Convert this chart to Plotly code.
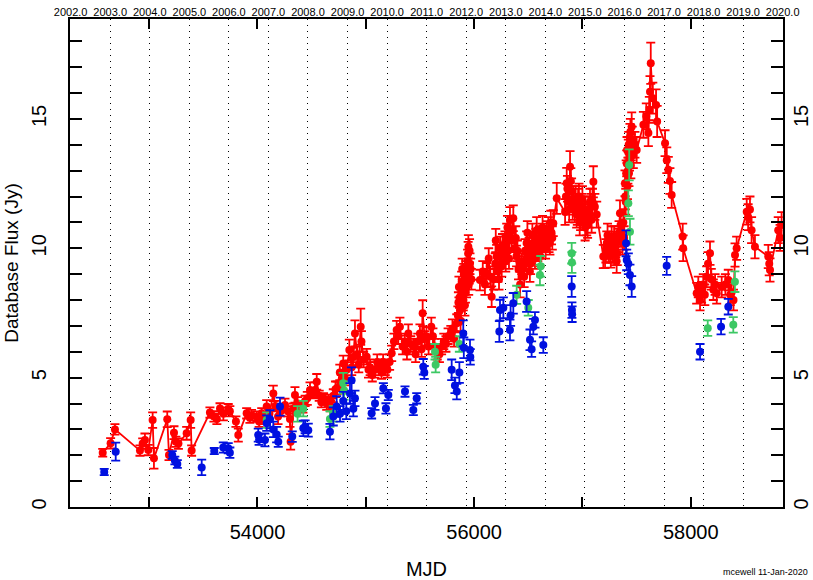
import datetime as dt
import plotly.graph_objects as go

# ---- light curve: red series (connected in time order) ----
red_mjd = [52571, 52644, 52684, 52915, 52940, 52961, 52992, 53032, 53044, 53167,
           53183, 53229, 53247, 53270, 53346, 53383, 53392, 53561, 53598, 53625,
           53654, 53685, 53730, 53745, 53801, 53823, 53900, 53930, 53945, 53993,
           54015, 54039, 54060, 54085, 54110, 54146, 54165, 54190, 54215, 54254,
           54280, 54300, 54306, 54330, 54346, 54370, 54395, 54420, 54440, 54460,
           54485, 54510, 54531, 54547, 54570, 54590, 54610, 54639, 54654, 54675,
           54700, 54720, 54735, 54760, 54775, 54792, 54805, 54823, 54848, 54870,
           54885, 54900, 54920, 54935, 54953, 54960, 54980, 55008, 55025, 55040,
           55060, 55085, 55105, 55130, 55145, 55160, 55180, 55200, 55220, 55239,
           55260, 55285, 55300, 55315, 55340, 55360, 55380, 55393, 55415, 55440,
           55460, 55480, 55500, 55515, 55525, 55545, 55560, 55580, 55605, 55620,
           55635, 55660, 55680, 55700, 55720, 55740, 55760, 55785, 55800, 55815,
           55840, 55850, 55860, 55870, 55880, 55890, 55900, 55910, 55920, 55930,
           55940, 55947, 55955, 55962, 55975, 56054, 56080, 56100, 56116, 56135,
           56150, 56162, 56180, 56195, 56208, 56220, 56240, 56255, 56270, 56285,
           56301, 56315, 56331, 56345, 56362, 56375, 56392, 56410, 56425, 56440,
           56454, 56470, 56485, 56500, 56515, 56530, 56547, 56562, 56578, 56595,
           56610, 56625, 56640, 56660, 56685, 56700, 56715, 56731, 56763, 56840,
           56855, 56870, 56886, 56900, 56917, 56930, 56947, 56960, 56975, 56993,
           57010, 57025, 57040, 57055, 57070, 57085, 57101, 57132, 57193, 57209,
           57225, 57240, 57255, 57270, 57285, 57300, 57316, 57330, 57347, 57360,
           57378, 57385, 57393, 57400, 57409, 57416, 57424, 57430, 57439, 57447,
           57455, 57470, 57485, 57501, 57563, 57590, 57609, 57618, 57624, 57631,
           57650, 57680, 57690, 57763, 57779, 57793, 57808, 57824, 57926, 57930,
           58055, 58070, 58086, 58100, 58116, 58130, 58147, 58160, 58178, 58190,
           58209, 58225, 58240, 58286, 58320, 58347, 58365, 58378, 58395, 58409,
           58424, 58517, 58530, 58547, 58562, 58593, 58716, 58725, 58732, 58808,
           58825, 58839,
           # denser sampling during the 2011-2016 campaigns
           55855, 55865, 55875, 55885, 55895, 55905, 55915, 55925, 55935, 55945,
           55950, 55958, 55968, 56200, 56230, 56262, 56292, 56308, 56322, 56352,
           56385, 56400, 56418, 56462, 56478, 56492, 56508, 56522, 56538, 56555,
           56570, 56588, 56603, 56618, 56632, 56650, 56670, 56692, 56708, 56722,
           56848, 56862, 56878, 56893, 56910, 56938, 56953, 56968, 56983, 57000,
           57018, 57032, 57048, 57062, 57078, 57093, 57115, 57217, 57232, 57248,
           57262, 57278, 57293, 57308, 57322, 57338, 57353, 57370, 57396, 57404,
           57412, 57420, 57427, 57435, 57443, 57451, 57460]
red_flux = [2.10, 2.46, 3.00, 2.18, 2.45, 2.59, 2.20, 3.36, 1.88, 3.39,
            2.01, 2.87, 2.52, 2.45, 2.85, 3.36, 2.18, 3.65, 3.50, 3.40,
            3.81, 3.60, 3.78, 3.70, 3.30, 2.78, 3.62, 3.45, 3.55, 3.49,
            3.30, 3.62, 3.40, 3.88, 3.60, 4.39, 3.90, 3.50, 3.70, 3.94,
            3.70, 3.40, 2.52, 3.80, 4.33, 4.00, 3.90, 3.85, 4.10, 4.20,
            4.52, 4.40, 4.52, 4.84, 4.30, 4.05, 4.20, 4.00, 4.14, 3.90,
            4.30, 4.55, 4.60, 5.20, 4.80, 5.55, 5.00, 5.30, 6.07, 5.40,
            5.80, 6.71, 5.90, 5.50, 6.97, 6.40, 5.70, 5.81, 5.30, 5.40,
            5.10, 5.30, 5.60, 5.40, 5.20, 5.60, 5.40, 5.30, 5.60, 5.94,
            6.40, 6.84, 6.60, 6.97, 6.20, 6.40, 6.00, 6.71, 6.30, 6.20,
            5.90, 6.40, 6.71, 6.10, 7.49, 6.50, 6.60, 6.20, 6.97, 6.60,
            6.20, 6.00, 5.90, 6.20, 6.40, 6.30, 6.60, 6.70, 6.90, 6.50,
            7.10, 7.40, 8.50, 7.60, 8.00, 9.20, 8.00, 8.70, 8.30, 8.50,
            9.50, 10.06, 9.03, 9.40, 8.80, 8.77, 9.10, 8.60, 9.03, 9.60,
            8.90, 8.13, 8.80, 9.40, 9.68, 9.10, 10.00, 9.30, 9.80, 10.20,
            10.45, 9.90, 11.09, 10.30, 11.16, 10.00, 9.70, 9.20, 8.60, 9.40,
            9.29, 9.90, 10.20, 9.60, 9.10, 9.80, 10.19, 9.60, 10.70, 10.20,
            9.70, 10.50, 10.30, 10.00, 10.70, 10.20, 10.60, 10.97, 11.93, 11.40,
            12.51, 11.80, 13.15, 12.20, 11.90, 11.50, 11.30, 11.80, 11.00, 11.60,
            11.20, 10.80, 11.00, 11.50, 11.80, 11.10, 12.57, 11.30, 9.68, 9.68,
            10.20, 9.90, 9.90, 10.40, 10.19, 9.80, 9.50, 10.30, 11.35, 10.50,
            11.00, 10.40, 12.51, 11.80, 13.28, 12.40, 13.70, 12.90, 14.31, 13.20,
            14.70, 13.60, 14.00, 13.80, 14.77, 15.10, 14.45, 15.35, 16.05, 17.15,
            15.80, 15.54, 14.90, 14.06, 13.40, 13.03, 12.60, 12.06, 10.45, 10.00,
            8.26, 8.50, 8.00, 8.30, 8.60, 8.20, 8.90, 9.40, 9.81, 8.80,
            8.40, 8.60, 8.26, 8.50, 8.60, 8.77, 8.20, 8.30, 8.00, 9.74,
            10.00, 11.41, 11.20, 11.50, 10.70, 10.06, 9.68, 9.40, 9.16, 10.70,
            10.40, 10.90,
            7.90, 8.10, 7.20, 8.70, 8.40, 9.00, 7.80, 9.10, 8.90, 9.80,
            8.60, 9.90, 9.20, 10.30, 8.80, 10.10, 9.50, 10.80, 9.60, 10.70,
            10.40, 9.90, 9.50, 8.90, 9.50, 10.60, 10.00, 9.40, 10.50, 9.90,
            10.30, 9.90, 10.40, 10.00, 10.80, 10.40, 10.60, 10.30, 11.00, 10.40,
            12.00, 12.30, 11.50, 12.60, 11.60, 11.90, 11.40, 12.00, 11.20, 11.90,
            11.50, 11.30, 10.90, 11.30, 11.60, 11.80, 11.60, 9.90, 10.50, 10.10,
            9.70, 9.90, 10.40, 10.10, 9.80, 10.60, 10.90, 10.20, 12.00, 12.90,
            13.80, 13.00, 14.00, 13.50, 14.50, 13.90, 14.20]
red_err = [0.15, 0.20, 0.20, 0.20, 0.20, 0.25, 0.20, 0.30, 0.40, 0.30,
           0.20, 0.25, 0.20, 0.20, 0.25, 0.30, 0.20, 0.20, 0.20, 0.20,
           0.20, 0.25, 0.20, 0.20, 0.20, 0.25, 0.20, 0.20, 0.20, 0.20,
           0.20, 0.20, 0.20, 0.25, 0.20, 0.30, 0.20, 0.30, 0.20, 0.25,
           0.20, 0.30, 0.30, 0.20, 0.30, 0.25, 0.20, 0.20, 0.20, 0.25,
           0.30, 0.20, 0.30, 0.30, 0.20, 0.20, 0.20, 0.25, 0.20, 0.20,
           0.25, 0.30, 0.25, 0.30, 0.30, 0.30, 0.30, 0.30, 0.40, 0.30,
           0.35, 0.50, 0.30, 0.30, 0.70, 0.40, 0.30, 0.30, 0.30, 0.30,
           0.25, 0.30, 0.30, 0.30, 0.25, 0.30, 0.30, 0.30, 0.30, 0.30,
           0.30, 0.35, 0.30, 0.35, 0.30, 0.30, 0.30, 0.35, 0.30, 0.30,
           0.30, 0.30, 0.35, 0.30, 0.50, 0.30, 0.35, 0.30, 0.35, 0.30,
           0.30, 0.30, 0.30, 0.30, 0.30, 0.30, 0.30, 0.30, 0.35, 0.30,
           0.35, 0.35, 0.40, 0.35, 0.40, 0.40, 0.40, 0.40, 0.40, 0.40,
           0.45, 0.45, 0.40, 0.40, 0.40, 0.40, 0.40, 0.40, 0.40, 0.40,
           0.40, 0.40, 0.40, 0.40, 0.45, 0.40, 0.45, 0.40, 0.40, 0.45,
           0.50, 0.40, 0.50, 0.45, 0.50, 0.40, 0.40, 0.40, 0.50, 0.40,
           0.40, 0.45, 0.45, 0.40, 0.40, 0.40, 0.45, 0.40, 0.50, 0.45,
           0.40, 0.45, 0.45, 0.40, 0.50, 0.45, 0.45, 0.50, 0.60, 0.50,
           0.60, 0.50, 0.60, 0.50, 0.50, 0.50, 0.50, 0.50, 0.50, 0.50,
           0.50, 0.50, 0.50, 0.50, 0.50, 0.50, 0.60, 0.50, 0.45, 0.45,
           0.45, 0.45, 0.45, 0.45, 0.45, 0.45, 0.45, 0.45, 0.50, 0.45,
           0.50, 0.45, 0.50, 0.50, 0.50, 0.50, 0.50, 0.50, 0.50, 0.50,
           0.55, 0.50, 0.50, 0.50, 0.50, 0.50, 0.50, 0.50, 0.60, 0.80,
           0.60, 0.60, 0.60, 0.50, 0.50, 0.50, 0.50, 0.50, 0.50, 0.50,
           0.40, 0.40, 0.40, 0.40, 0.40, 0.40, 0.40, 0.45, 0.45, 0.40,
           0.40, 0.40, 0.40, 0.40, 0.40, 0.40, 0.40, 0.40, 0.40, 0.45,
           0.45, 0.50, 0.50, 0.50, 0.50, 0.45, 0.45, 0.45, 0.45, 0.50,
           0.50, 0.50,
           0.40, 0.40, 0.40, 0.40, 0.40, 0.40, 0.40, 0.40, 0.40, 0.45,
           0.40, 0.45, 0.40, 0.45, 0.40, 0.45, 0.40, 0.45, 0.40, 0.45,
           0.45, 0.40, 0.40, 0.40, 0.40, 0.45, 0.40, 0.40, 0.45, 0.40,
           0.45, 0.40, 0.45, 0.40, 0.45, 0.45, 0.45, 0.45, 0.45, 0.45,
           0.50, 0.50, 0.50, 0.50, 0.50, 0.50, 0.50, 0.50, 0.50, 0.50,
           0.50, 0.50, 0.50, 0.50, 0.50, 0.50, 0.50, 0.45, 0.45, 0.45,
           0.45, 0.45, 0.45, 0.45, 0.45, 0.45, 0.45, 0.45, 0.50, 0.50,
           0.50, 0.50, 0.50, 0.50, 0.50, 0.50, 0.50]

# ---- green series ----
green_mjd = [54085, 54370, 54423, 54669, 54700, 54792, 54800, 55639, 55645, 55864,
             56393, 56500, 56608, 56615, 56901, 56903, 57424, 57432, 57439, 58157,
             58393, 58408]
green_flux = [3.36, 3.60, 3.80, 3.40, 3.60, 4.78, 4.50, 6.00, 5.50, 6.30,
              8.20, 7.70, 8.97, 9.30, 9.81, 9.45, 11.74, 13.22, 10.64, 6.91,
              7.04, 8.71]
green_err = [0.30, 0.30, 0.30, 0.30, 0.30, 0.40, 0.35, 0.30, 0.30, 0.30,
             0.35, 0.30, 0.40, 0.40, 0.40, 0.40, 0.50, 0.60, 0.50, 0.30,
             0.30, 0.40]

# ---- blue series ----
blue_mjd = [52585, 52691, 53213, 53237, 53260, 53485, 53601, 53684, 53730, 53745,
            54007, 54015, 54069, 54085, 54116, 54146, 54177, 54192, 54208, 54321,
            54423, 54440, 54469, 54669, 54700, 54731, 54762, 54792, 54820, 54854,
            54869, 54885, 54900, 55054, 55085, 55162, 55186, 55208, 55362, 55439,
            55470, 55531, 55540, 55793, 55823, 55840, 55864, 55900, 55905, 55962,
            55965, 56233, 56239, 56270, 56331, 56337, 56362, 56485, 56516, 56531,
            56547, 56562, 56639, 56901, 56903, 56905, 57403, 57409, 57424, 57439,
            57455, 57778, 58086, 58280, 58347]
blue_flux = [1.35, 2.14, 2.01, 1.80, 1.66, 1.53, 2.16, 2.30, 2.27, 2.10,
             2.78, 2.60, 2.59, 3.24, 3.39, 3.00, 2.80, 2.52, 3.88, 2.72,
             3.04, 3.10, 2.97, 2.91, 3.50, 3.88, 3.60, 4.10, 3.70, 4.39,
             4.90, 3.80, 4.20, 3.62, 4.00, 4.59, 3.81, 4.33, 4.46, 3.75,
             4.20, 5.42, 5.20, 5.30, 4.70, 4.46, 5.20, 6.71, 6.15, 6.07,
             5.80, 6.78, 7.61, 7.70, 6.84, 7.40, 7.87, 7.94, 6.46, 6.10,
             6.97, 7.23, 6.26, 8.52, 7.61, 7.45, 10.19, 9.55, 9.40, 8.97,
             8.52, 9.32, 6.00, 6.97, 7.74]
blue_err = [0.12, 0.35, 0.15, 0.15, 0.15, 0.30, 0.12, 0.20, 0.20, 0.20,
            0.25, 0.20, 0.25, 0.30, 0.35, 0.30, 0.30, 0.20, 0.35, 0.20,
            0.30, 0.25, 0.25, 0.30, 0.35, 0.40, 0.30, 0.35, 0.30, 0.40,
            0.50, 0.30, 0.30, 0.20, 0.25, 0.20, 0.20, 0.20, 0.20, 0.20,
            0.20, 0.30, 0.25, 0.40, 0.30, 0.30, 0.40, 0.50, 0.40, 0.40,
            0.30, 0.40, 0.40, 0.40, 0.40, 0.40, 0.40, 0.40, 0.40, 0.30,
            0.30, 0.30, 0.30, 0.40, 0.30, 0.30, 0.50, 0.40, 0.40, 0.40,
            0.40, 0.35, 0.30, 0.30, 0.30]

# calendar-year markers along the top axis (MJD of 1 January)
years = list(range(2002, 2021))
mjd0 = dt.date(1858, 11, 17)
year_mjd = [(dt.date(y, 1, 1) - mjd0).days for y in years]
year_text = [f"{y}.0" for y in years]

RED = "#ff0000"
GREEN = "#3cc864"
BLUE = "#0010e0"
FONT = "Liberation Sans, Arial, sans-serif"

X_RANGE = [52269, 58852]
Y_RANGE = [0, 18.86]

# the red curve is joined in time order
red_rows = sorted(zip(red_mjd, red_flux, red_err))
red_x = [r[0] for r in red_rows]
red_y = [r[1] for r in red_rows]
red_e = [r[2] for r in red_rows]


def err_trace(x, y, e, color, mode):
    return go.Scatter(
        x=x, y=y, mode=mode,
        marker=dict(color=color, size=8, symbol="circle"),
        line=dict(color=color, width=1.8),
        error_y=dict(type="data", array=e, visible=True, color=color,
                     thickness=1.8, width=4.5),
        showlegend=False, hoverinfo="x+y",
    )


fig = go.Figure()
fig.add_trace(err_trace(red_x, red_y, red_e, RED, "lines+markers"))
fig.add_trace(err_trace(green_mjd, green_flux, green_err, GREEN, "markers"))
fig.add_trace(err_trace(blue_mjd, blue_flux, blue_err, BLUE, "markers"))
# carriers for the year axis on top and the mirrored flux labels on the right
fig.add_trace(go.Scatter(x=[], y=[], xaxis="x2", yaxis="y", showlegend=False))
fig.add_trace(go.Scatter(x=[], y=[], xaxis="x", yaxis="y2", showlegend=False))

fig.update_layout(
    width=813, height=580,
    margin=dict(l=70, r=30, t=19, b=73, autoexpand=False),
    paper_bgcolor="white", plot_bgcolor="white",
    font=dict(family=FONT, color="black"),
    xaxis=dict(
        range=X_RANGE, showgrid=False, zeroline=False, automargin=False,
        showline=True, linecolor="black", linewidth=2, mirror="allticks",
        ticks="inside", ticklen=10, tickwidth=1.5, tickcolor="black",
        tick0=54000, dtick=2000, tickformat="d",
        minor=dict(dtick=1000, tick0=53000, ticks="inside", ticklen=5,
                   tickwidth=1.5, tickcolor="black", showgrid=False),
        tickfont=dict(size=20), ticklabelstandoff=6,
        title=dict(text="MJD", font=dict(size=20), standoff=22),
    ),
    xaxis2=dict(
        range=X_RANGE, overlaying="x", side="top", anchor="y", automargin=False,
        tickmode="array", tickvals=year_mjd, ticktext=year_text,
        ticks="", showline=False, zeroline=False,
        showgrid=True, gridcolor="black", gridwidth=1, griddash="1px,5px",
        tickfont=dict(size=11), ticklabelstandoff=0,
    ),
    yaxis=dict(
        range=Y_RANGE, showgrid=False, zeroline=False, automargin=False,
        showline=True, linecolor="black", linewidth=2, mirror="allticks",
        ticks="inside", ticklen=12, tickwidth=1.5, tickcolor="black",
        tick0=0, dtick=5, tickangle=-90,
        minor=dict(dtick=1, ticks="inside", ticklen=7, tickwidth=1.5,
                   tickcolor="black", showgrid=False),
        tickfont=dict(size=20), ticklabelstandoff=14,
        title=dict(text="Database Flux (Jy)", font=dict(size=19), standoff=4),
    ),
    yaxis2=dict(
        range=Y_RANGE, overlaying="y", side="right", anchor="x", automargin=False,
        tickmode="array", tickvals=[0, 5, 10, 15], tickangle=-90,
        ticks="", showline=False, showgrid=False, zeroline=False,
        tickfont=dict(size=20), ticklabelstandoff=4,
    ),
)

# plot stamp in the lower right corner
fig.add_annotation(
    text="mcewell 11-Jan-2020", xref="paper", yref="paper",
    x=(721 - 70) / 713, y=-(579 - 507) / 488,
    xanchor="left", yanchor="bottom", showarrow=False,
    font=dict(size=9, family=FONT),
)

fig.write_html("out.html")
